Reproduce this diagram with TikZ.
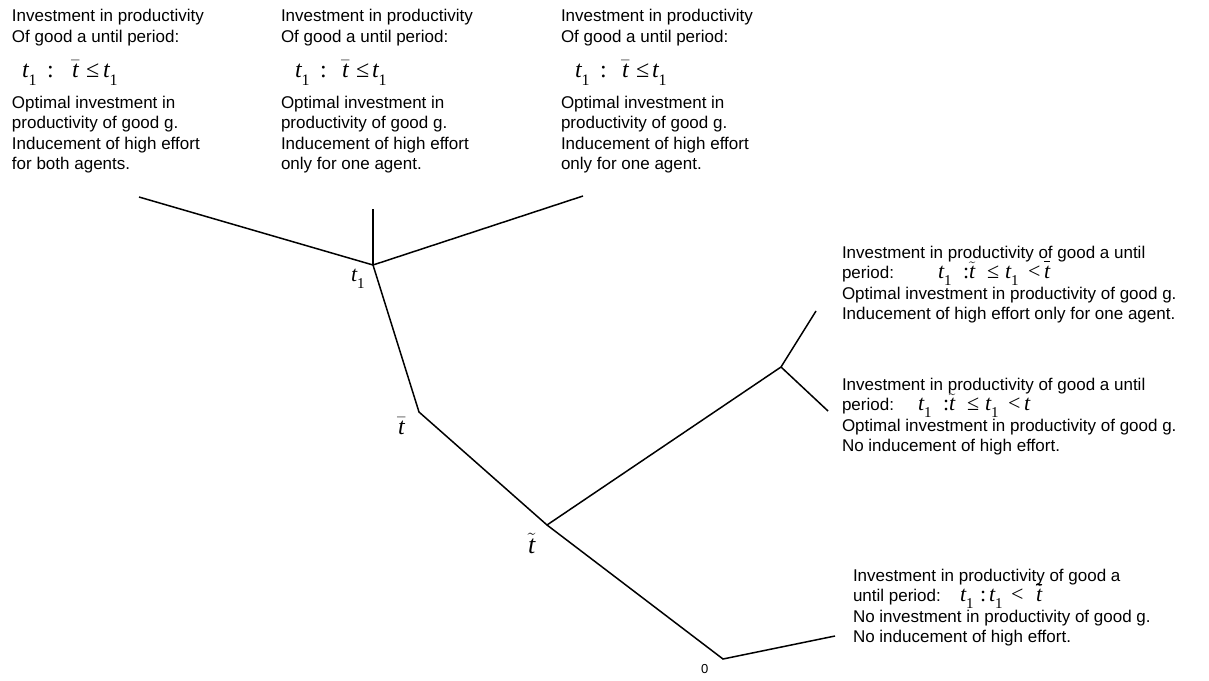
\documentclass[tikz,border=0pt]{standalone}
\usepackage{fontspec}
\setmainfont{Liberation Sans}
\newfontfamily\tms{Liberation Serif}
% math pieces in Times-like serif
\newcommand\mtt{{\tms\itshape t}}
\newcommand\subA{\raisebox{-8pt}{\tms\fontsize{16}{16}\selectfont 1}}
\newcommand\subB{\raisebox{-7pt}{\tms\fontsize{15}{15}\selectfont 1}}
\newcommand\subC{\raisebox{-7pt}{\tms\fontsize{15}{15}\selectfont 1}}
\newcommand\toneA{\mtt\subA}
\newcommand\toneB{\mtt\subB}
\newcommand\toneC{\mtt\subC}
\newcommand\tbar{$\bar{\mbox{\mtt}}$}
\newcommand\ttil{$\tilde{\mbox{\mtt}}$}
\newcommand\hibar{\rlap{\raisebox{17pt}{\rule{6pt}{0.8pt}}}}
\newcommand\blk[1]{\parbox[t]{420pt}{\fontsize{17}{20.5}\selectfont\lineskiplimit=-100pt\raggedright #1}}
\newcommand\topmath[4]{\fontsize{24}{24}\selectfont\makebox[#1pt][l]{\toneA}\makebox[#2pt][l]{\tms :}\makebox[#3pt][l]{\tbar}\makebox[#4pt][l]{\tms ≤}\toneA}
\newcommand\rightmath[1]{\makebox[25pt][l]{\toneC}\makebox[6pt][l]{\tms :}\makebox[18pt][l]{\ttil}\makebox[18pt][l]{\tms ≤}\makebox[23pt][l]{\toneC}\makebox[16pt][l]{\tms <}#1\mtt}
\begin{document}
\begin{tikzpicture}[x=1pt,y=-1pt,line width=1.5pt,
  every node/.style={inner sep=0pt,outer sep=0pt},
  txt/.style={anchor=base west},
  rmath/.style={anchor=base west,font=\fontsize{22}{22}\selectfont},
  lbl/.style={anchor=base west,font=\fontsize{22}{22}\selectfont}]
\useasboundingbox (0,0) rectangle (1209,680);
% tree
\coordinate (root) at (723,659);
\coordinate (rend) at (835,636);
\coordinate (tt) at (547,525);
\coordinate (br) at (781,367);
\coordinate (bru) at (816,311);
\coordinate (brd) at (828,411);
\coordinate (tb) at (419,412);
\coordinate (t1) at (373,265);
\coordinate (l1) at (139,197);
\coordinate (l2) at (373,209);
\coordinate (l3) at (583,196);
\draw (rend) -- (root) -- (tt) -- (tb) -- (t1);
\draw (tt) -- (br) -- (bru);
\draw (br) -- (brd);
\draw (l1) -- (t1) -- (l3);
\draw (t1) -- (l2);
% tree labels
\node[lbl] (lt1) at (351,281) {\toneB};
\node[lbl,font=\fontsize{24}{24}\selectfont] (ltb) at (398,434) {\tbar};
\node[lbl,font=\fontsize{26}{26}\selectfont] (ltt) at (528,553) {\ttil};
\node[txt,font=\fontsize{13}{13}\selectfont] (l0) at (701,673) {0};
% top blocks
\node[txt] (a1) at (12,21.5) {\blk{Investment in productivity\\Of good a until period:}};
\node[txt] (a1m) at (22,77) {\topmath{25}{25}{14}{17}};
\node[txt] (a1b) at (12,108) {\blk{Optimal investment in\\productivity of good g.\\Inducement of high effort\\for both agents.}};
\node[txt] (a2) at (281,21.5) {\blk{Investment in productivity\\Of good a until period:}};
\node[txt] (a2m) at (295,77) {\topmath{25}{22}{14}{16}};
\node[txt] (a2b) at (281,108) {\blk{Optimal investment in\\productivity of good g.\\Inducement of high effort\\only for one agent.}};
\node[txt] (a3) at (561,21.5) {\blk{Investment in productivity\\Of good a until period:}};
\node[txt] (a3m) at (575,77) {\topmath{25}{22}{14}{16}};
\node[txt] (a3b) at (561,108) {\blk{Optimal investment in\\productivity of good g.\\Inducement of high effort\\only for one agent.}};
% right blocks
\node[txt] (b1) at (842,258) {\blk{Investment in productivity of good a until\\period:\\Optimal investment in productivity of good g.\\Inducement of high effort only for one agent.}};
\node[rmath] (b1m) at (938,278.5) {\rightmath{\hibar}};
\node[txt] (b2) at (842,390) {\blk{Investment in productivity of good a until\\period:\\Optimal investment in productivity of good g.\\No inducement of high effort.}};
\node[rmath] (b2m) at (918,410.5) {\rightmath{}};
\node[txt] (c1) at (853,581) {\blk{Investment in productivity of good a\\until period:\\No investment in productivity of good g.\\No inducement of high effort.}};
\node[rmath] (c1m) at (960,601.5) {\makebox[20pt][l]{\toneC}\makebox[9pt][l]{\tms :}\makebox[22pt][l]{\toneC}\makebox[25pt][l]{\tms <}\hibar\ttil};
\end{tikzpicture}
\end{document}
